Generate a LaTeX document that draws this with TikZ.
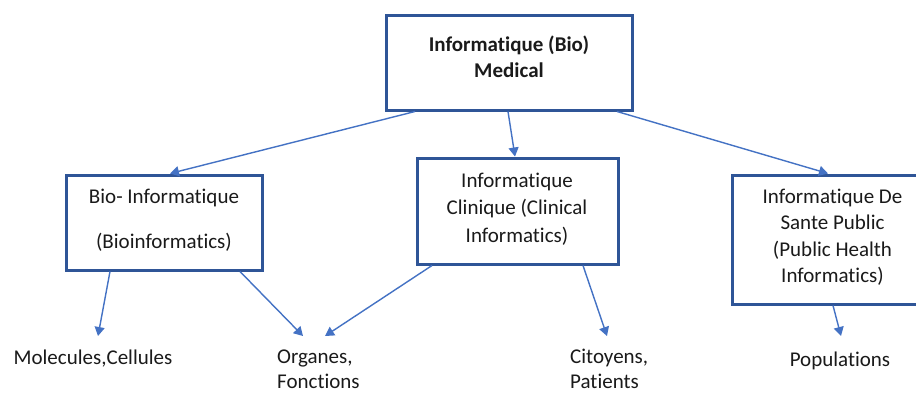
\documentclass[tikz,border=0pt]{standalone}
\usepackage{fontspec}
\setmainfont{Carlito}[Ligatures={NoCommon,NoContextual}]
\usetikzlibrary{arrows.meta,calc}
\definecolor{boxblue}{HTML}{2F5597}
\definecolor{arrblue}{HTML}{4472C4}
\definecolor{txtgray}{HTML}{1A1A1A}
\begin{document}
\begin{tikzpicture}[x=1pt,y=-1pt,
  box/.style={draw=boxblue,line width=3pt,fill=white,inner sep=0pt},
  txt/.style={font=\fontsize{21}{26}\selectfont,text=txtgray,inner sep=0pt,anchor=base},
  btxt/.style={txt,font=\fontsize{21}{26}\selectfont\bfseries},
  arr/.style={draw=arrblue,line width=1.4pt,-{Triangle[width=10pt,length=9pt]}}]
\useasboundingbox (0,0) rectangle (916,392);
\clip (0,0) rectangle (916,392);
\fill[white] (0,0) rectangle (916,392);

% boxes
\node[box,minimum width=246pt,minimum height=95pt] (top) at (509,62.5) {};
\node[box,minimum width=196pt,minimum height=95pt] (bio) at (164,222.5) {};
\node[box,minimum width=201pt,minimum height=106pt] (clin) at (517.5,211) {};
\node[box,minimum width=202pt,minimum height=129pt] (pub) at (833,239.5) {};

% box texts
\node[btxt] (topA) at (509,51) {Informatique (Bio)};
\node[btxt] (topB) at (509,77) {Medical};
\node[txt] (bioA) at (164,203) {Bio- Informatique};
\node[txt] (bioB) at (164,248) {(Bioinformatics)};
\node[txt] (clinA) at (517,187) {Informatique};
\node[txt] (clinB) at (517,214.5) {Clinique (Clinical};
\node[txt] (clinC) at (517,242) {Informatics)};
\node[txt] (pubA) at (832.5,203) {Informatique De};
\node[txt] (pubB) at (832.5,229.5) {Sante Public};
\node[txt] (pubC) at (832.5,256) {(Public Health};
\node[txt] (pubD) at (832.5,282.5) {Informatics)};

% leaf labels
\node[txt] (mol) at (93,364) {Molecules,Cellules};
\node[txt,anchor=base west] (orgA) at (277,363) {Organes,};
\node[txt,anchor=base west] (orgB) at (277,388.5) {Fonctions};
\node[txt,anchor=base west] (citA) at (570,363.5) {Citoyens,};
\node[txt,anchor=base west] (citB) at (570,388.5) {Patients};
\node[txt] (pop) at (840,366.5) {Populations};

% arrow tips
\coordinate (tMol) at (98,336);
\coordinate (tOrgL) at (303,336);
\coordinate (tOrgR) at (325,336);
\coordinate (tCit) at (607,336);
\coordinate (tPop) at (841,336);

% connectors
\draw[arr] ($(top.south)+(-94,0)$) -- ($(bio.north)+(6,0)$);
\draw[arr] ($(top.south)+(-1,0)$) -- ($(clin.north)+(-2.5,0)$);
\draw[arr] ($(top.south)+(108,0)$) -- ($(pub.north)+(-5,0)$);
\draw[arr] ($(bio.south)+(-54,0)$) -- (tMol);
\draw[arr] ($(bio.south)+(76,0)$) -- (tOrgL);
\draw[arr] ($(clin.south)+(-85.5,0)$) -- (tOrgR);
\draw[arr] ($(clin.south)+(65.5,0)$) -- (tCit);
\draw[arr] ($(pub.south)+(0,0)$) -- (tPop);
\end{tikzpicture}
\end{document}
